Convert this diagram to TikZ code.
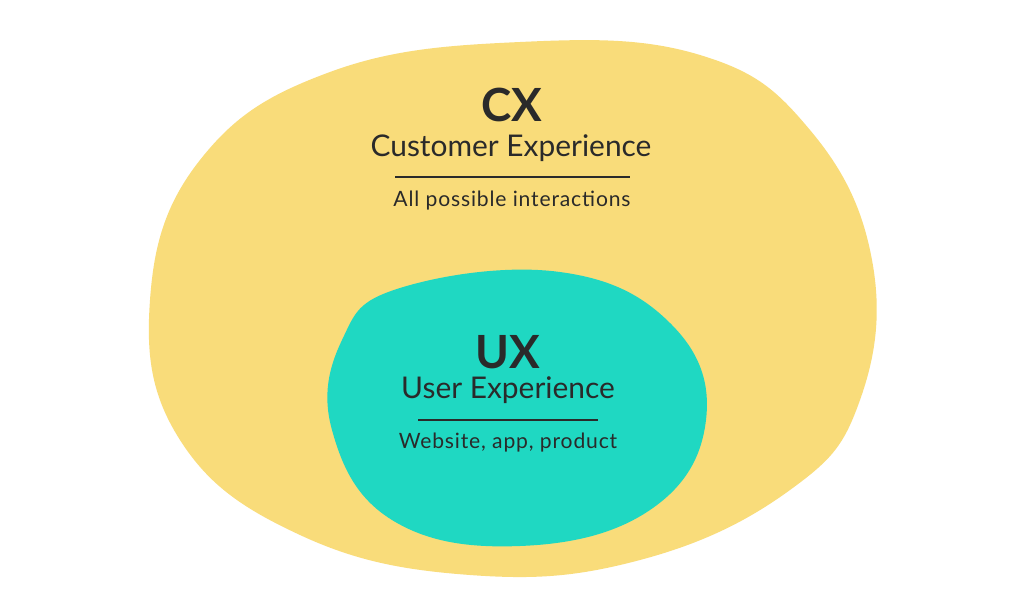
\documentclass[tikz,border=0pt]{standalone}
\usepackage{fontspec}
\setmainfont{Lato}
\definecolor{cxyellow}{HTML}{F9DC7A}
\definecolor{uxteal}{HTML}{1FD8C2}
\definecolor{ink}{HTML}{2A2A2A}
\tikzset{
  big/.style={text=ink, font=\fontsize{13}{14}\selectfont\bfseries},
  sub/.style={text=ink, font=\fontsize{8.5}{10}\selectfont},
  tiny/.style={text=ink, font=\fontsize{6}{7}\selectfont\addfontfeature{LetterSpace=4}},
}
\begin{document}
\begin{tikzpicture}[x=0.01cm,y=-0.01cm]
    \useasboundingbox (0,0) rectangle (1024,600);
    \fill[white] (0,0) rectangle (1024,600);
    \fill[cxyellow] plot[smooth cycle, tension=0.7] coordinates {(200,160) (330,72) (520,42) (700,55) (810,130) (872,260) (860,400) (790,490) (640,560) (470,575) (300,535) (180,440) (150,300)};
    \fill[uxteal] plot[smooth cycle, tension=0.7] coordinates {(400,288) (560,272) (672,325) (706,420) (650,510) (520,546) (392,520) (332,430) (342,340)};
    \node[big] (cx) at (512,105) {CX};
    \node[sub] (cxname) at (511,148) {Customer Experience};
    \node[tiny] (cxnote) at (512,201) {All possible interactions};
    \draw[ink, line width=0.6pt] (395,177) -- (630,177);
    \node[big] (ux) at (508,352) {UX};
    \node[sub] (uxname) at (508,390) {User Experience};
    \node[tiny] (uxnote) at (508,443) {Website, app, product};
    \draw[ink, line width=0.6pt] (418,420) -- (598,420);
\end{tikzpicture}
\end{document}
